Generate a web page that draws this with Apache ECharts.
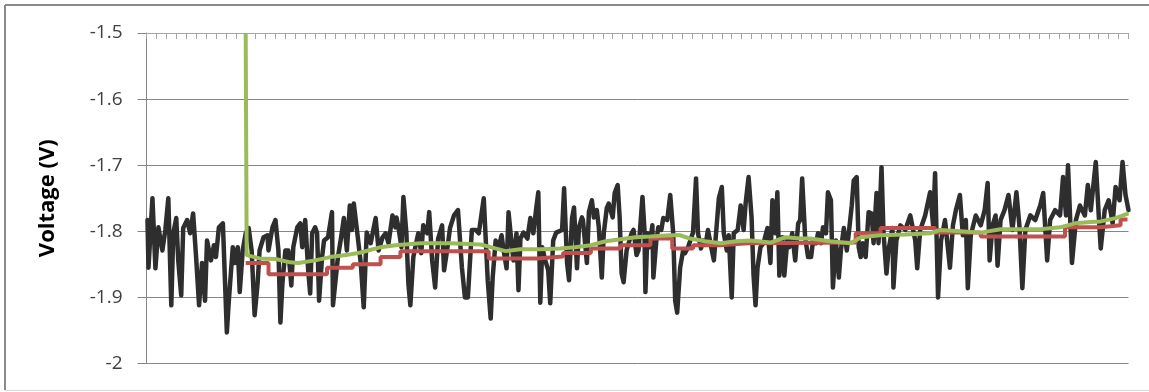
<!DOCTYPE html>
<html>
<head>
<meta charset="utf-8">
<script src="https://cdn.jsdelivr.net/npm/echarts@6/dist/echarts.min.js"></script>
<style>
html,body{margin:0;padding:0;background:#fff;}
#chart{width:1149px;height:392px;}
</style>
</head>
<body>
<div id="chart"></div>
<script>
// Y axis range / ticks
const yMin = -2, yMax = -1.5, yStep = 0.1;
// X axis = sample index
const xMin = 0, xMax = 990, xStep = 10;

// Measured signal (black)
const blackX = [1,2,6,9,12,16,19,22,25,27,30,32,35,37,41,44,47,50,53,56,59,61,65,68,70,73,77,79,81,83,87,89,92,94,97,100,103,106,109,112,114,118,122,123,127,130,133,135,137,140,143,146,148,152,155,157,160,163,165,167,170,172,174,177,179,183,187,188,193,196,199,202,205,207,209,213,216,219,222,226,231,234,238,241,244,248,251,252,254,257,259,262,264,266,269,271,274,277,279,283,285,288,291,294,298,300,303,306,310,314,318,321,324,328,332,335,340,342,344,347,349,352,355,358,360,363,365,368,370,373,375,377,380,384,387,390,393,395,397,399,402,405,407,410,413,415,419,421,424,426,429,431,434,436,439,440,444,446,449,451,454,456,459,461,464,466,470,472,475,477,479,481,484,486,489,491,494,496,500,502,503,505,507,510,511,514,516,519,521,525,528,531,533,535,538,541,543,546,550,551,554,556,559,561,564,566,570,572,575,577,580,582,585,587,590,592,596,599,602,604,607,610,612,614,616,619,622,626,629,631,634,636,638,641,643,646,648,651,654,657,659,661,664,667,670,672,675,677,680,682,685,687,690,692,695,698,700,703,706,708,711,713,716,718,720,722,725,728,731,733,736,738,741,743,746,748,752,753,756,760,765,770,775,777,780,785,790,793,795,798,801,805,810,813,816,820,823,826,828,831,836,841,845,848,850,853,856,858,861,865,869,873,877,880,883,886,891,896,901,904,908,911,916,921,924,927,929,933,937,941,946,949,952,957,960,962,966,970,974,977,981,984,987,990];
const blackY = [-1.783,-1.855,-1.750,-1.856,-1.794,-1.829,-1.798,-1.750,-1.912,-1.803,-1.780,-1.844,-1.897,-1.795,-1.783,-1.803,-1.773,-1.839,-1.912,-1.848,-1.905,-1.814,-1.844,-1.821,-1.839,-1.794,-1.788,-1.870,-1.953,-1.905,-1.824,-1.848,-1.824,-1.892,-1.829,-1.803,-1.795,-1.829,-1.927,-1.879,-1.829,-1.809,-1.806,-1.829,-1.794,-1.783,-1.829,-1.938,-1.879,-1.829,-1.829,-1.882,-1.824,-1.794,-1.788,-1.824,-1.783,-1.859,-1.894,-1.803,-1.794,-1.803,-1.905,-1.839,-1.814,-1.809,-1.771,-1.912,-1.839,-1.811,-1.780,-1.829,-1.761,-1.798,-1.758,-1.809,-1.848,-1.915,-1.802,-1.818,-1.780,-1.829,-1.809,-1.803,-1.818,-1.776,-1.794,-1.779,-1.794,-1.824,-1.748,-1.803,-1.879,-1.912,-1.839,-1.824,-1.803,-1.833,-1.791,-1.803,-1.771,-1.844,-1.885,-1.811,-1.791,-1.859,-1.829,-1.795,-1.776,-1.768,-1.855,-1.900,-1.900,-1.798,-1.798,-1.803,-1.750,-1.753,-1.874,-1.932,-1.870,-1.814,-1.824,-1.806,-1.829,-1.856,-1.771,-1.818,-1.844,-1.803,-1.889,-1.811,-1.802,-1.811,-1.780,-1.803,-1.764,-1.741,-1.908,-1.824,-1.844,-1.859,-1.909,-1.814,-1.802,-1.803,-1.798,-1.735,-1.848,-1.874,-1.780,-1.764,-1.856,-1.794,-1.779,-1.783,-1.848,-1.771,-1.753,-1.779,-1.768,-1.794,-1.870,-1.803,-1.765,-1.758,-1.779,-1.742,-1.730,-1.779,-1.864,-1.877,-1.829,-1.829,-1.803,-1.798,-1.836,-1.829,-1.748,-1.798,-1.892,-1.803,-1.824,-1.791,-1.870,-1.814,-1.794,-1.798,-1.780,-1.783,-1.745,-1.803,-1.905,-1.923,-1.855,-1.829,-1.833,-1.824,-1.806,-1.802,-1.720,-1.803,-1.826,-1.814,-1.817,-1.798,-1.829,-1.844,-1.788,-1.750,-1.733,-1.803,-1.829,-1.806,-1.900,-1.803,-1.798,-1.761,-1.798,-1.758,-1.718,-1.779,-1.867,-1.912,-1.855,-1.824,-1.818,-1.795,-1.848,-1.753,-1.803,-1.741,-1.867,-1.809,-1.867,-1.814,-1.824,-1.803,-1.844,-1.788,-1.783,-1.720,-1.809,-1.839,-1.839,-1.814,-1.818,-1.803,-1.818,-1.794,-1.803,-1.741,-1.753,-1.885,-1.814,-1.870,-1.829,-1.795,-1.829,-1.803,-1.761,-1.723,-1.718,-1.824,-1.839,-1.818,-1.839,-1.771,-1.773,-1.818,-1.742,-1.818,-1.703,-1.802,-1.864,-1.829,-1.795,-1.885,-1.814,-1.791,-1.798,-1.776,-1.814,-1.856,-1.798,-1.776,-1.741,-1.791,-1.712,-1.900,-1.814,-1.783,-1.855,-1.791,-1.768,-1.745,-1.806,-1.783,-1.886,-1.806,-1.776,-1.791,-1.768,-1.727,-1.844,-1.791,-1.776,-1.852,-1.783,-1.768,-1.745,-1.798,-1.741,-1.791,-1.886,-1.798,-1.776,-1.783,-1.761,-1.742,-1.844,-1.783,-1.768,-1.776,-1.718,-1.776,-1.700,-1.848,-1.783,-1.761,-1.776,-1.730,-1.768,-1.695,-1.776,-1.826,-1.768,-1.753,-1.788,-1.733,-1.753,-1.695,-1.745,-1.768];

// Stepped estimate (red)
const redX = [100,123,182,208,236,256,345,394,420,448,478,508,530,551,579,606,715,740,795,841,926,962,982,989];
const redY = [-1.848,-1.865,-1.855,-1.850,-1.839,-1.830,-1.841,-1.838,-1.833,-1.826,-1.821,-1.811,-1.826,-1.821,-1.818,-1.817,-1.803,-1.795,-1.802,-1.808,-1.794,-1.791,-1.782,-1.782];

// Smoothed estimate (green)
const greenX = [100,101,114,130,145,153,170,185,201,216,236,251,276,306,337,347,362,377,397,417,432,448,463,478,493,508,528,538,548,563,579,594,609,629,644,659,669,689,710,720,740,765,790,800,821,841,861,881,901,921,936,952,962,977,990];
const greenY = [-1.5,-1.836,-1.841,-1.842,-1.847,-1.848,-1.844,-1.839,-1.836,-1.832,-1.824,-1.821,-1.818,-1.818,-1.820,-1.824,-1.830,-1.827,-1.827,-1.826,-1.824,-1.821,-1.815,-1.812,-1.809,-1.808,-1.806,-1.806,-1.811,-1.815,-1.818,-1.815,-1.814,-1.817,-1.809,-1.811,-1.811,-1.815,-1.818,-1.809,-1.806,-1.805,-1.803,-1.798,-1.800,-1.802,-1.797,-1.797,-1.797,-1.794,-1.788,-1.786,-1.785,-1.780,-1.773];

const zip = (xs, ys) => xs.map((x, i) => [x, ys[i]]);

const chart = echarts.init(document.getElementById('chart'), null, {renderer: 'canvas'});
chart.setOption({
  animation: false,
  backgroundColor: '#ffffff',
  grid: {left: 146.5, right: 20.5, top: 33, bottom: 28.5, containLabel: false},
  graphic: [
    {type: 'line', shape: {x1: 5, y1: 5, x2: 1149, y2: 5}, style: {stroke: '#8a8a8a', lineWidth: 2}, silent: true},
    {type: 'line', shape: {x1: 5, y1: 5, x2: 5, y2: 390}, style: {stroke: '#8a8a8a', lineWidth: 2}, silent: true},
    {type: 'line', shape: {x1: 5, y1: 390.5, x2: 1149, y2: 390.5}, style: {stroke: '#d9d9d9', lineWidth: 1}, silent: true}
  ],
  xAxis: {
    type: 'value', position: 'top', min: xMin, max: xMax, interval: xStep,
    axisLine: {show: true, onZero: false, lineStyle: {color: '#a6a6a6', width: 1}},
    axisTick: {show: true, inside: true, length: 6, lineStyle: {color: '#a6a6a6'}},
    axisLabel: {show: false},
    splitLine: {show: false}
  },
  yAxis: {
    type: 'value', min: yMin, max: yMax, interval: yStep,
    name: 'Voltage (V)', nameLocation: 'middle', nameGap: 88,
    nameTextStyle: {fontFamily: 'Open Sans', fontWeight: 'bold', fontSize: 22, color: '#000'},
    axisLine: {show: true, lineStyle: {color: '#868686', width: 1}},
    axisTick: {show: true, inside: false, length: 9, lineStyle: {color: '#868686'}},
    axisLabel: {margin: 24, fontFamily: 'Open Sans', fontSize: 19, color: '#404040',
      formatter: v => String(Math.round(v * 10) / 10)},
    splitLine: {show: true, lineStyle: {color: '#868686', width: 1}}
  },
  series: [
    {type: 'line', data: zip(blackX, blackY), showSymbol: false, symbol: 'none',
      lineStyle: {color: '#2e2e2e', width: 4.5, join: 'round', cap: 'round'}, z: 2},
    {type: 'line', data: zip(redX, redY), step: 'end', showSymbol: false, symbol: 'none',
      lineStyle: {color: '#c0504d', width: 4}, z: 3},
    {type: 'line', data: zip(greenX, greenY), showSymbol: false, symbol: 'none',
      lineStyle: {color: '#9bbb59', width: 4}, z: 4}
  ]
});
</script>
</body>
</html>
